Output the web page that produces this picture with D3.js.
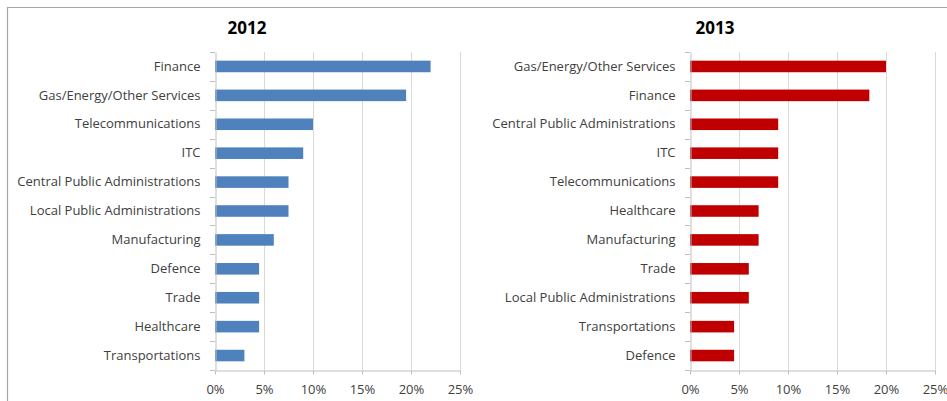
<!DOCTYPE html>
<html>
<head>
<meta charset="utf-8">
<script src="https://cdn.jsdelivr.net/npm/d3@7/dist/d3.min.js"></script>
<style>
  html, body { margin: 0; padding: 0; background: #fff; }
  svg { display: block; }
  text { font-family: "Open Sans", "Liberation Sans", sans-serif; }
</style>
</head>
<body>
<svg id="chart" width="947" height="401"></svg>
<script>
// Share of incidents by sector, in percent
const categories2012 = ["Finance", "Gas/Energy/Other Services", "Telecommunications", "ITC",
  "Central Public Administrations", "Local Public Administrations", "Manufacturing",
  "Defence", "Trade", "Healthcare", "Transportations"];
const values2012 = [22, 19.5, 10, 9, 7.5, 7.5, 6, 4.5, 4.5, 4.5, 3];

const categories2013 = ["Gas/Energy/Other Services", "Finance", "Central Public Administrations",
  "ITC", "Telecommunications", "Healthcare", "Manufacturing", "Trade",
  "Local Public Administrations", "Transportations", "Defence"];
const values2013 = [20, 18.3, 9, 9, 9, 7, 7, 6, 6, 4.5, 4.5];

const xTicks = [0, 5, 10, 15, 20, 25];

const svg = d3.select("#chart");
const W = 947, H = 401;

svg.append("rect").attr("width", W).attr("height", H).attr("fill", "#fff");

// outer frame (top and left edges)
svg.append("path")
  .attr("d", `M7.5,${H} V7.5 H${W}`)
  .attr("fill", "none")
  .attr("stroke", "#a6a6a6")
  .attr("stroke-width", 1.2);

function panel(opts) {
  const { title, cats, vals, color, x0, x1, top, bottom, titleX } = opts;
  const g = svg.append("g");

  const x = d3.scaleLinear().domain([0, 25]).range([x0, x1]);
  const y = d3.scaleBand().domain(cats).range([top, bottom])
    .paddingInner(0.6).paddingOuter(0.3);
  const step = y.step();

  // vertical gridlines
  g.selectAll("line.grid").data(xTicks.slice(1)).join("line")
    .attr("class", "grid")
    .attr("x1", d => Math.round(x(d)) + 0.5).attr("x2", d => Math.round(x(d)) + 0.5)
    .attr("y1", top).attr("y2", bottom)
    .attr("stroke", "#d9d9d9").attr("stroke-width", 1);

  // bars
  g.selectAll("rect.bar").data(cats).join("rect")
    .attr("class", "bar")
    .attr("x", x(0))
    .attr("y", d => y(d))
    .attr("width", (d, i) => x(vals[i]) - x(0))
    .attr("height", y.bandwidth())
    .attr("fill", color);

  // category axis
  const yAxis = g.append("g")
    .attr("transform", `translate(${Math.round(x0) + 0.5},0)`)
    .call(d3.axisLeft(y).tickSize(0).tickPadding(15));
  yAxis.select(".domain").attr("stroke", "#bfbfbf");
  yAxis.selectAll("text")
    .attr("font-size", 13)
    .attr("fill", "#404040")
    .attr("font-family", "'Open Sans', sans-serif");

  // tick marks between categories
  const bounds = d3.range(cats.length + 1).map(i => top + i * step);
  g.selectAll("line.ytick").data(bounds).join("line")
    .attr("class", "ytick")
    .attr("x1", Math.round(x0) - 5).attr("x2", Math.round(x0))
    .attr("y1", d => Math.round(d) + 0.5).attr("y2", d => Math.round(d) + 0.5)
    .attr("stroke", "#bfbfbf");

  // value axis
  const xAxis = g.append("g")
    .attr("transform", `translate(0,${Math.round(bottom) + 0.5})`)
    .call(d3.axisBottom(x).tickValues(xTicks).tickFormat(d => d + "%")
      .tickSize(4).tickPadding(10).tickSizeOuter(0));
  xAxis.select(".domain").attr("stroke", "#bfbfbf");
  xAxis.selectAll(".tick line").attr("stroke", "#bfbfbf");
  xAxis.selectAll("text")
    .attr("font-size", 13)
    .attr("fill", "#404040")
    .attr("font-family", "'Open Sans', sans-serif");

  // title
  g.append("text")
    .attr("x", titleX).attr("y", 34)
    .attr("text-anchor", "middle")
    .attr("font-size", 17)
    .attr("font-weight", "bold")
    .attr("fill", "#000")
    .text(title);
}

panel({ title: "2012", cats: categories2012, vals: values2012, color: "#4f81bd",
  x0: 215, x1: 460, top: 52, bottom: 370, titleX: 247 });
panel({ title: "2013", cats: categories2013, vals: values2013, color: "#c00000",
  x0: 690, x1: 935, top: 52, bottom: 370, titleX: 715 });
</script>
</body>
</html>
